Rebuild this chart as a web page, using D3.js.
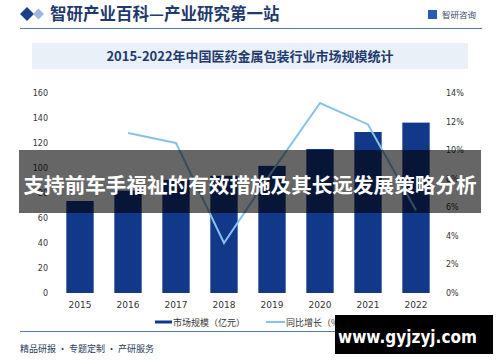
<!DOCTYPE html>
<html>
<head>
<meta charset="utf-8">
<script src="https://cdn.jsdelivr.net/npm/d3@7"></script>
<style>
  body { margin: 0; background: #fff; }
  svg { display: block; font-family: "Noto Sans CJK SC", "DejaVu Sans", sans-serif; }
</style>
</head>
<body>
<div id="chart-area"></div>
<script>
// data
const years = ["2015", "2016", "2017", "2018", "2019", "2020", "2021", "2022"]
const marketSize = [73.6, 81.9, 90.5, 93.7, 101.7, 115.2, 128.8, 136.3]   // 亿元
const growth = [null, 11.2, 10.5, 3.5, 8.5, 13.3, 11.8, 5.8]              // %
const leftTicks = [0, 20, 40, 60, 80, 100, 120, 140, 160]
const rightTicks = [0, 2, 4, 6, 8, 10, 12, 14]
const seriesNames = ["市场规模（亿元）", "同比增长（%）"]

function drawChart() {
    const svgWidth = 500
    const svgHeight = 362
    const margin = { left: 56, right: 60, top: 93, bottom: 69 }
    const chartWidth = svgWidth - margin.left - margin.right
    const chartHeight = svgHeight - margin.top - margin.bottom

    const barColor = "#12388a"
    const lineColor = "#86c3ec"
    const navy = "#1f3a6e"

    const svg = d3.select("#chart-area")
        .append("svg")
        .attr("width", svgWidth)
        .attr("height", svgHeight)

    // header
    svg.append("path")
        .attr("d", "M20,14 L27,7 L34,14 L27,21 Z")
        .attr("fill", "#1c3f8c")
    svg.append("path")
        .attr("d", "M33,14 L38.5,8.5 L44,14 L38.5,19.5 Z")
        .attr("fill", "#9db8e0")
    svg.append("text")
        .attr("x", 50)
        .attr("y", 20)
        .attr("font-size", 16.5)
        .attr("font-weight", "bold")
        .attr("fill", navy)
        .text("智研产业百科—产业研究第一站")
    svg.append("rect")
        .attr("x", 428).attr("y", 10)
        .attr("width", 9).attr("height", 9)
        .attr("fill", "#2a5bb0")
    svg.append("text")
        .attr("x", 442)
        .attr("y", 18)
        .attr("font-size", 8.5)
        .attr("fill", "#3a4a6a")
        .text("智研咨询")
    svg.append("line")
        .attr("x1", 20).attr("x2", 482)
        .attr("y1", 28.5).attr("y2", 28.5)
        .attr("stroke", "#5a78a8")
        .attr("stroke-width", 1)

    // title band
    svg.append("rect")
        .attr("x", 32).attr("y", 43)
        .attr("width", 436).attr("height", 26)
        .attr("fill", "#eaf0f8")
    svg.append("text")
        .attr("x", 250)
        .attr("y", 60.5)
        .attr("text-anchor", "middle")
        .attr("font-size", 13)
        .attr("font-weight", "bold")
        .attr("fill", navy)
        .text("2015-2022年中国医药金属包装行业市场规模统计")

    const chart = svg.append("g")
        .attr("transform", `translate(${margin.left},${margin.top})`)

    const xScale = d3.scaleBand()
        .domain(years)
        .range([0, chartWidth])
        .paddingInner(0.43)
        .paddingOuter(0.215)

    const yScale = d3.scaleLinear()
        .domain([0, 160])
        .range([chartHeight, 0])

    const yScale2 = d3.scaleLinear()
        .domain([0, 14])
        .range([chartHeight, 0])

    // bars
    chart.append("g")
        .selectAll("rect")
        .data(years)
        .join("rect")
        .attr("x", d => xScale(d))
        .attr("y", (d, i) => yScale(marketSize[i]))
        .attr("width", xScale.bandwidth())
        .attr("height", (d, i) => chartHeight - yScale(marketSize[i]))
        .attr("fill", barColor)

    // growth line
    const lineData = years.map((d, i) => ({ year: d, value: growth[i] }))
        .filter(d => d.value !== null)
    const lineGenerator = d3.line()
        .x(d => xScale(d.year) + xScale.bandwidth() / 2)
        .y(d => yScale2(d.value))
    chart.append("path")
        .attr("d", lineGenerator(lineData))
        .attr("fill", "none")
        .attr("stroke", lineColor)
        .attr("stroke-width", 2)

    // axes
    const xAxis = chart.append("g")
        .attr("transform", `translate(0,${chartHeight})`)
        .call(d3.axisBottom(xScale).tickSize(0).tickPadding(9))
    xAxis.select(".domain").remove()
    xAxis.selectAll("text")
        .attr("font-size", 9)
        .attr("fill", "#333")
        .attr("font-family", "DejaVu Sans")

    const yAxis = chart.append("g")
        .attr("transform", "translate(-8,0)")
        .call(d3.axisLeft(yScale).tickValues(leftTicks).tickSize(0).tickPadding(0))
    yAxis.select(".domain").remove()
    yAxis.selectAll("text")
        .attr("font-size", 8)
        .attr("fill", "#333")
        .attr("font-family", "DejaVu Sans")

    const yAxis2 = chart.append("g")
        .attr("transform", `translate(${chartWidth + 6},0)`)
        .call(d3.axisRight(yScale2).tickValues(rightTicks).tickSize(0).tickPadding(0)
            .tickFormat(d => d + "%"))
    yAxis2.select(".domain").remove()
    yAxis2.selectAll("text")
        .attr("font-size", 8)
        .attr("fill", "#333")
        .attr("font-family", "DejaVu Sans")

    // legend
    const legend = svg.append("g")
        .attr("transform", "translate(0,322)")
    legend.append("line")
        .attr("x1", 155).attr("x2", 172)
        .attr("stroke", barColor).attr("stroke-width", 3)
    legend.append("text")
        .attr("x", 173).attr("y", 3.5)
        .attr("font-size", 9).attr("fill", "#333")
        .text(seriesNames[0])
    legend.append("line")
        .attr("x1", 266).attr("x2", 285)
        .attr("stroke", lineColor).attr("stroke-width", 2)
    legend.append("text")
        .attr("x", 286).attr("y", 3.5)
        .attr("font-size", 9).attr("fill", "#333")
        .text(seriesNames[1])

    // footer
    svg.append("line")
        .attr("x1", 20).attr("x2", 482)
        .attr("y1", 331.5).attr("y2", 331.5)
        .attr("stroke", "#5a78a8")
    svg.append("text")
        .attr("x", 20).attr("y", 352)
        .attr("font-size", 9).attr("fill", "#2a3a5a")
        .text("精品研报 · 专题定制 · 产研服务")
    svg.append("text")
        .attr("x", 481).attr("y", 351)
        .attr("text-anchor", "end")
        .attr("font-size", 6).attr("fill", "#555")
        .text("www.chyxx.com")

    // overlay banner
    svg.append("rect")
        .attr("x", 19).attr("y", 150)
        .attr("width", 462).attr("height", 63)
        .attr("fill", "rgba(0,0,0,0.6)")
    svg.append("text")
        .attr("x", 250).attr("y", 193)
        .attr("text-anchor", "middle")
        .attr("font-size", 20.6)
        .attr("font-weight", "bold")
        .attr("fill", "#fff")
        .text("支持前车手福祉的有效措施及其长远发展策略分析")

    // site stamp
    svg.append("rect")
        .attr("x", 335).attr("y", 315)
        .attr("width", 158).attr("height", 39)
        .attr("fill", "#000")
    svg.append("text")
        .attr("x", 338).attr("y", 343)
        .attr("font-size", 18)
        .attr("font-weight", "bold")
        .attr("font-family", "DejaVu Sans")
        .attr("textLength", 139)
        .attr("lengthAdjust", "spacingAndGlyphs")
        .attr("fill", "#fff")
        .text("www.gyjzyj.com")
}

drawChart()
</script>
</body>
</html>
